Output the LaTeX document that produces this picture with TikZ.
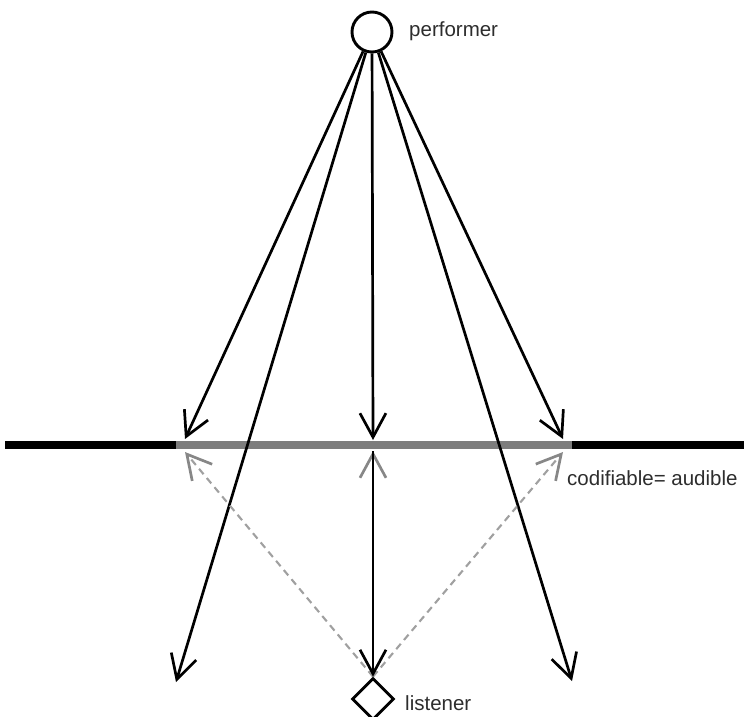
\documentclass[tikz,border=0pt]{standalone}
\usepackage{fontspec}
\setmainfont{Liberation Sans}
\usetikzlibrary{arrows.meta,shapes.geometric}
\definecolor{barline}{RGB}{125,125,125}
\definecolor{tipgray}{RGB}{135,135,135}
\definecolor{dashgray}{RGB}{160,160,160}
\definecolor{labelink}{RGB}{45,45,45}
\tikzset{
  ray/.style={line width=2.7pt, black, -{Straight Barb[length=24pt,width=26pt,line width=2.7pt]}},
  backray/.style={line width=2.1pt, dashgray, dash pattern=on 7pt off 5pt,
    -{Straight Barb[length=24pt,width=26pt,line width=2.7pt,color=tipgray]}},
  grayhead/.style={line width=2.7pt, tipgray, -{Straight Barb[length=24pt,width=26pt,line width=2.7pt]}},
  label/.style={font=\fontsize{20.5}{24}\selectfont, text=labelink, inner sep=0pt, anchor=west},
}
\begin{document}
\begin{tikzpicture}[x=1pt,y=-1pt]
\useasboundingbox (0,0) rectangle (744,716);

% threshold line: black outside, grey over the codifiable span
\coordinate (hl) at (5,445);
\coordinate (hr) at (744,445);
\coordinate (gl) at (176,445);
\coordinate (gr) at (572,445);
\draw[line width=8pt, black] (hl) -- (hr);
\draw[line width=8pt, barline] (gl) -- (gr);

% performer and listener
\node[circle, draw, line width=2.9pt, minimum size=40pt, inner sep=0pt] (perf) at (372,32) {};
\node[diamond, draw, line width=2.8pt, minimum size=42pt, inner sep=0pt, fill=white] (lis) at (373,699) {};

\node[label] (perflab) at (409,31) {performer};
\node[label] (lislab) at (405,703) {listener};
\node[label] (codlab) at (567,478) {codifiable= audible};

% end points
\coordinate (Ltop) at (185,439);
\coordinate (Ctop) at (373,440);
\coordinate (Rtop) at (563,439);
\coordinate (Lbot) at (185,452);
\coordinate (Cbot) at (373,451);
\coordinate (Rbot) at (563,452);
\coordinate (BL) at (176,682);
\coordinate (BR) at (572,681);

% rays from the performer
\draw[ray] (perf) -- (Ltop);
\draw[ray] (perf) -- (BL);
\draw[ray] (perf) -- (Ctop);
\draw[ray] (perf) -- (Rtop);
\draw[ray] (perf) -- (BR);

% listener's view back to the line
\draw[backray] (lis.north) -- (Lbot);
\draw[backray] (lis.north) -- (Rbot);
\draw[grayhead] (lis.north) -- (Cbot);
\draw[ray] (Cbot) -- (lis.north);
\end{tikzpicture}
\end{document}
